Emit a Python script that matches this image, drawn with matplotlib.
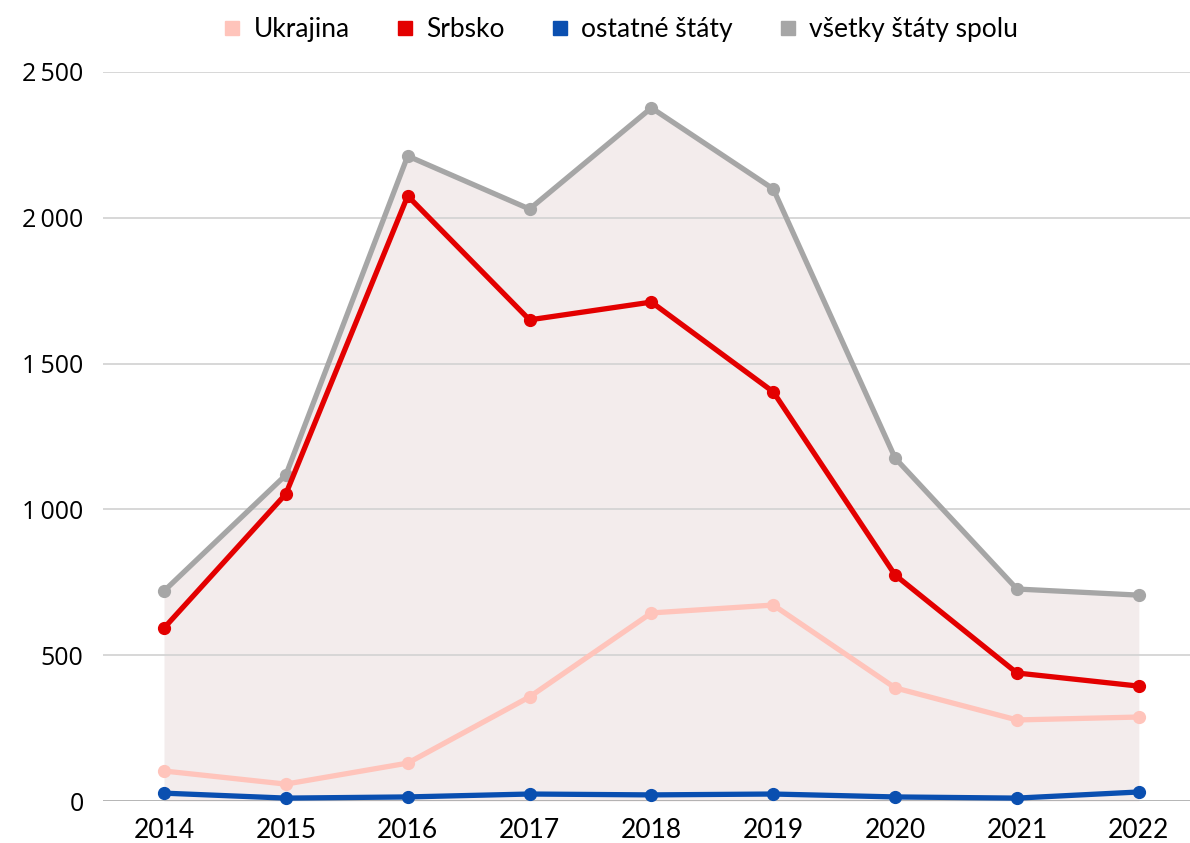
import matplotlib.pyplot as plt
from matplotlib.lines import Line2D

# data
roky = [2014, 2015, 2016, 2017, 2018, 2019, 2020, 2021, 2022]
ukrajina = [103, 58, 130, 357, 645, 672, 388, 278, 288]
srbsko = [593, 1053, 2075, 1650, 1711, 1403, 775, 439, 394]
ostatne = [27, 10, 14, 24, 21, 24, 14, 10, 31]
vsetky = [720, 1118, 2212, 2030, 2377, 2099, 1176, 727, 706]

c_ukr = '#ffc4bb'
c_srb = '#e30000'
c_ost = '#0a4fb0'
c_vse = '#a6a6a6'

fig = plt.figure(figsize=(11.9, 8.43), dpi=100)
ax = fig.add_axes([0.0866, 0.0498, 0.9134, 0.8648])

ax.fill_between(roky, 0, vsetky, color='#f3ecec', zorder=1, linewidth=0)
for y in [500, 1000, 1500, 2000, 2500]:
    ax.axhline(y, color='#d4d4d4', lw=1.3, zorder=2)
ax.axhline(0, color='#a0a0a0', lw=1.8, zorder=2)

kw = dict(lw=3.8, marker='o', markersize=8.5, clip_on=False)
ax.plot(roky, vsetky, color=c_vse, zorder=3, **kw)
ax.plot(roky, ukrajina, color=c_ukr, zorder=4, **kw)
ax.plot(roky, ostatne, color=c_ost, zorder=5, **kw)
ax.plot(roky, srbsko, color=c_srb, zorder=6, **kw)

ax.set_xlim(2013.5, 2022.42)
ax.set_ylim(0, 2500)
ax.set_xticks(roky)
ax.set_xticklabels([str(r) for r in roky], fontsize=19, family='Lato')
ax.set_yticks([0, 500, 1000, 1500, 2000, 2500])
ax.set_yticklabels(['0', '500', '1\u2009000', '1\u2009500', '2\u2009000', '2\u2009500'],
                   fontsize=18, family='Open Sans')
ax.tick_params(axis='y', length=0, pad=14)
ax.tick_params(axis='x', length=0, pad=12)
for s in ax.spines.values():
    s.set_visible(False)

handles = [Line2D([], [], ls='', marker='s', markersize=10, color=c)
           for c in [c_ukr, c_srb, c_ost, c_vse]]
fig.legend(handles, ['Ukrajina', 'Srbsko', 'ostatné štáty', 'všetky štáty spolu'],
           loc='center', bbox_to_anchor=(0.52, 0.965), ncol=4, frameon=False,
           prop={'family': 'Lato', 'size': 19}, handletextpad=0.3,
           columnspacing=1.6, handlelength=1.0)

fig.savefig('out.png', dpi=100)
